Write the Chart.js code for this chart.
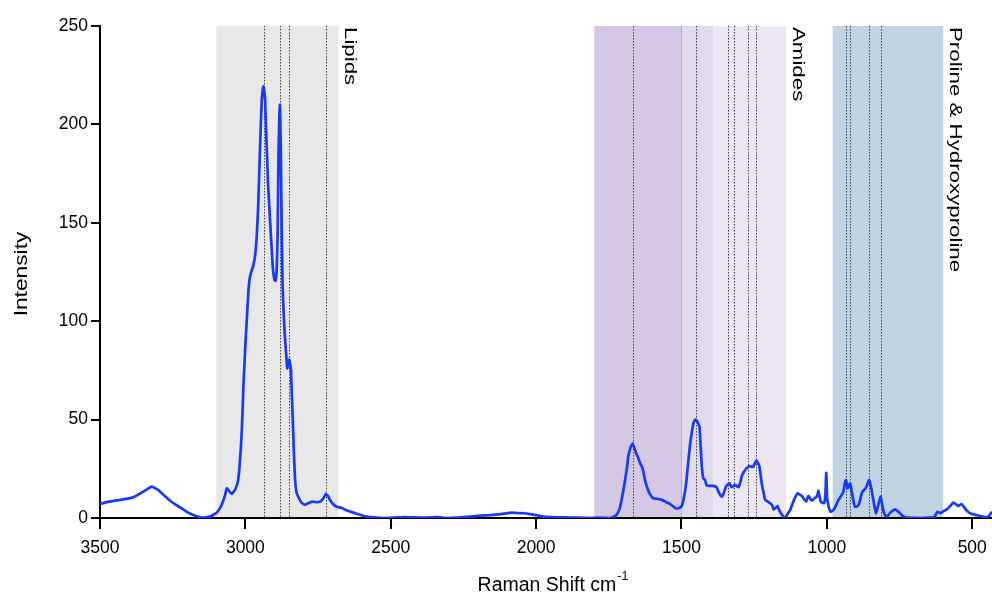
<!DOCTYPE html>
<html><head><meta charset="utf-8">
<script src="https://cdn.jsdelivr.net/npm/chart.js@4.4.1/dist/chart.umd.min.js"></script>
<style>html,body{margin:0;padding:0;background:#fff;overflow:hidden}#wrap{width:992px;height:603px}</style>
</head><body><div id="wrap"><canvas id="c" width="992" height="603"></canvas></div>
<script>
// ---- data ----
const ramanShift = [3500,3470,3431,3400,3385,3351,3322,3299,3280,3259,3240,3219,3200,3179,3150,3122,3100,3085,3070,3064,3055,3047,3035,3025,3018,3012,3007,3000,2995,2990,2986,2980,2973,2966,2961,2956,2952,2948,2944,2940,2938,2935,2932,2927,2922,2915,2910,2906,2900,2896,2892,2889,2886,2883,2881,2879,2876,2872,2868,2864,2858,2856,2852,2849,2846,2843,2840,2837,2833,2829,2824,2818,2808,2795,2780,2766,2755,2743,2732,2723,2715,2709,2698,2686,2670,2657,2640,2617,2600,2583,2560,2525,2480,2450,2422,2380,2340,2307,2270,2227,2190,2158,2120,2084,2060,2040,2021,2000,1975,1950,1906,1860,1814,1780,1746,1723,1712,1706,1700,1694,1688,1683,1675,1668,1662,1656,1650,1642,1636,1631,1625,1619,1610,1597,1585,1568,1555,1539,1528,1519,1510,1499,1492,1484,1477,1470,1464,1459,1453,1450,1444,1438,1434,1430,1425,1419,1413,1400,1390,1379,1373,1366,1361,1354,1347,1340,1335,1327,1316,1310,1304,1298,1293,1287,1281,1274,1266,1258,1253,1243,1237,1232,1228,1224,1218,1212,1203,1195,1188,1184,1177,1170,1164,1158,1150,1144,1135,1126,1120,1113,1107,1101,1094,1086,1078,1071,1067,1063,1058,1052,1044,1035,1031,1029,1025,1021,1013,1009,1005,1002,999,994,988,977,968,960,954,948,943,937,934,929,925,920,915,911,907,903,897,891,885,880,874,869,862,856,854,850,846,840,835,831,827,823,818,815,811,805,800,794,788,782,773,764,757,750,740,731,710,679,655,633,626,620,615,610,600,587,576,565,556,547,541,536,528,521,511,501,487,473,460,450,440,432];
const intensity = [7.1,8.3,9.2,10.0,10.5,13.4,15.9,14.2,11.5,8.8,6.8,4.9,3.0,1.5,0.2,0.7,2.5,5.5,11.5,15.1,13.5,12.2,14.5,19,30,45,66,88,101,114,121,125,128,134,143,158,177,195,211,218,219.3,217,212,190,170,151,138,128,121,120.5,127,145,185,205,210,195,160,118,103,92,80,76,79,80.5,78,75,62,50,33,19.3,13,10.8,8,6.6,7.8,8.3,8.0,8.3,10,12.2,11,9.2,7,5.7,5.2,4.2,3.3,2.2,1.4,0.7,0.3,0,0.3,0.5,0.3,0.2,0.4,0,0.2,0.7,1.2,1.5,2.0,2.7,2.5,2.4,2.0,1.5,0.7,0.4,0.3,0.2,0,0.2,0,1.5,5,9.2,14,19.3,25,31.2,36,38,35.5,32.9,31,27.8,26,23.5,19,15.9,12.5,10,9.8,9.2,8.3,7.1,5.8,4.9,5,6.1,10,17.6,28,38,44,48.1,50,49.8,48.5,46.4,36,26.1,20.2,19.3,16.5,16.3,16.3,15.6,13.4,11.5,10.8,13,15.9,17.2,17.6,15.6,16.8,16.2,15.6,18,21,23,24.4,25.5,26.4,26,26.1,29.1,28,26.1,22,17.6,13,9.2,8.3,7.5,6.5,4.4,5,6.1,4,2.4,0.8,0,2,4.1,6.5,9.2,11,12.6,12,11.2,9.5,8.3,10,11.2,10,8.8,9.8,10.8,12.5,13.9,11,8.3,7.6,7.5,12,23,10,6,3.2,4.1,6.5,9.2,10.5,12,13.4,18.5,19.3,15.1,16,17.6,14,10.8,7.5,5.7,5.8,6.6,9.5,12.6,14,14.6,16.5,19,19.3,17,14.2,9,5,2.4,4.5,6.6,9.5,10.8,8,3.2,1.5,0.7,1.5,2.7,3.8,4.4,3.5,2.7,1.2,0.3,0.1,0,0.2,0.3,1.5,3.2,2.8,2.4,3.4,4.4,6,7.8,7.0,6.1,6.8,7.1,5.5,4.1,2.8,2,1.5,1,0.6,0.3,1.5,3.2];
const xTicks = [3500,3000,2500,2000,1500,1000,500];
const yTicks = [0,50,100,150,200,250];
const bandFrom = [3100,1800,1500,1390,980];
const bandTo = [2680,1500,1390,1140,600];
const peakMarks = [2935,2881,2849,2722,1668,1450,1340,1320,1270,1245,935,919,854,814];
const regionNames = ['Lipids','Amides','Proline & Hydroxyproline'];
const regionNameAt = [2680,1140,600];
const xTitle = 'Raman Shift cm';
const xTitleSup = '-1';
const yTitle = 'Intensity';

// ---- styles ----
const bandColors = ['#e8e8e8','#d5c8e5','#e1d9ec','#ece7f3','#c2d4e3'];
const BASE = '"Liberation Sans", Arial, sans-serif';
const tickFont = {family: BASE, size: 17.5};

function drawText(ctx, text, x, y, rot, sx, sy, font, align, baseline){
  ctx.save();
  ctx.translate(x, y); ctx.rotate(rot); ctx.scale(sx, sy);
  ctx.font = font; ctx.textAlign = align; ctx.textBaseline = baseline;
  ctx.fillStyle = '#000';
  ctx.fillText(text, 0, 0);
  ctx.restore();
}

const decorPlugin = {
  id: 'decor',
  beforeDraw(chart){
    const {ctx, chartArea:a, scales:{x}} = chart;
    ctx.save();
    ctx.fillStyle = '#fff'; ctx.fillRect(0, 0, chart.width, chart.height);
    bandFrom.forEach((f, i) => {
      const x1 = x.getPixelForValue(f), x2 = x.getPixelForValue(bandTo[i]);
      ctx.fillStyle = bandColors[i];
      ctx.fillRect(Math.min(x1,x2), a.top, Math.abs(x2-x1), a.bottom - a.top);
    });
    const bx = Math.round(x.getPixelForValue(bandTo[1])) + 0.5;
    ctx.strokeStyle = '#b9a9d2'; ctx.lineWidth = 1;
    ctx.beginPath(); ctx.moveTo(bx, a.top); ctx.lineTo(bx, a.bottom); ctx.stroke();
    ctx.setLineDash([1.5,1.5]); ctx.strokeStyle = 'rgba(40,40,40,0.85)'; ctx.lineWidth = 1;
    peakMarks.forEach(v => {
      const px = Math.round(x.getPixelForValue(v)) + 0.5;
      ctx.beginPath(); ctx.moveTo(px, a.top); ctx.lineTo(px, a.bottom); ctx.stroke();
    });
    ctx.restore();
  },
  afterDraw(chart){
    const {ctx, chartArea:a, scales:{x}} = chart;
    regionNames.forEach((t, i) => {
      const px = x.getPixelForValue(regionNameAt[i]) + 3;
      drawText(ctx, t, px, a.top + 1, Math.PI/2, 1.35, 1, '16.5px ' + BASE, 'left', 'bottom');
    });
    drawText(ctx, yTitle, 22, (a.top + a.bottom)/2 + 2, -Math.PI/2, 1.3, 1, '17.5px ' + BASE, 'center', 'middle');
    ctx.save();
    const mainFont = '19.5px ' + BASE, supFont = '12.5px ' + BASE;
    ctx.font = mainFont; const w1 = ctx.measureText(xTitle).width;
    ctx.font = supFont; const w2 = ctx.measureText(xTitleSup).width;
    const cx = (a.left + a.right)/2 + 7;
    const sx = cx - (w1 + w2 + 1)/2;
    ctx.fillStyle = '#000'; ctx.textBaseline = 'alphabetic'; ctx.textAlign = 'left';
    ctx.font = mainFont; ctx.fillText(xTitle, sx, 591);
    ctx.font = supFont; ctx.fillText(xTitleSup, sx + w1 + 1, 580);
    ctx.restore();
  }
};

new Chart(document.getElementById('c'), {
  type: 'line',
  data: {
    datasets: [{
      data: ramanShift.map((v, i) => ({x: v, y: intensity[i]})),
      borderColor: '#1638ff',
      borderWidth: 2.7,
      pointRadius: 0,
      tension: 0.1,
      fill: false
    }]
  },
  options: {
    responsive: false,
    animation: false,
    devicePixelRatio: 1,
    layout: {padding: {top: 26, right: 0, left: 0, bottom: 0}},
    plugins: {legend: {display: false}, tooltip: {enabled: false}},
    scales: {
      x: {
        type: 'linear', reverse: true, min: 432, max: 3500,
        afterBuildTicks: s => { s.ticks = xTicks.map(v => ({value: v})); },
        afterFit: s => { s.height = 85; s.paddingLeft = 0; s.paddingRight = 0; },
        grid: {display: true, drawOnChartArea: false, drawTicks: true, tickLength: 11, color: '#000', lineWidth: 2},
        border: {display: true, color: '#000', width: 2},
        ticks: {color: '#000', font: tickFont, padding: 9, maxRotation: 0, autoSkip: false, callback: v => String(v)}
      },
      y: {
        type: 'linear', min: 0, max: 250,
        afterBuildTicks: s => { s.ticks = yTicks.map(v => ({value: v})); },
        afterFit: s => { s.width = 100; s.paddingTop = 0; s.paddingBottom = 0; },
        grid: {display: true, drawOnChartArea: false, drawTicks: true, tickLength: 9, color: '#000', lineWidth: 2},
        border: {display: true, color: '#000', width: 2},
        ticks: {color: '#000', font: tickFont, padding: 3, autoSkip: false, callback: v => String(v)}
      }
    }
  },
  plugins: [decorPlugin]
});
</script></body></html>
